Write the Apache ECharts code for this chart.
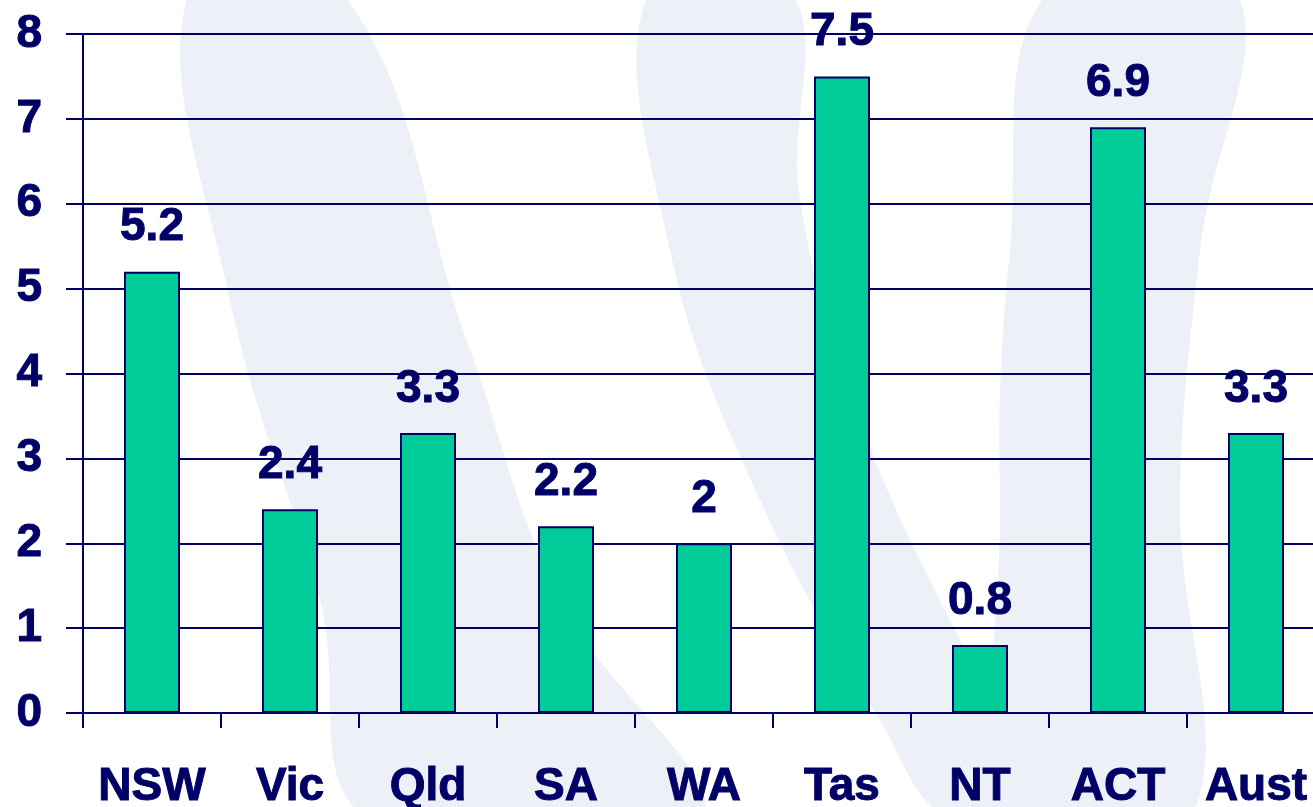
<!DOCTYPE html>
<html>
<head>
<meta charset="utf-8">
<script src="https://cdn.jsdelivr.net/npm/echarts@6/dist/echarts.min.js"></script>
<style>
  html, body { margin: 0; padding: 0; background: #fff; }
  #chart { width: 1313px; height: 807px; }
</style>
</head>
<body>
<div id="chart"></div>
<script>
// states + national figure
var categories = ['NSW', 'Vic', 'Qld', 'SA', 'WA', 'Tas', 'NT', 'ACT', 'Aust'];
var values = [5.2, 2.4, 3.3, 2.2, 2, 7.5, 0.8, 6.9, 3.3];
var yTicks = [0, 1, 2, 3, 4, 5, 6, 7, 8];

var navy = '#000066';
var green = '#00CC99';
var swoosh = '#EEF0F8';
var font = '"Liberation Sans", Arial, sans-serif';

var chart = echarts.init(document.getElementById('chart'));

// background decoration, just rough crescent outlines
function band(points) {
    return {
        type: 'polygon',
        z: -10,
        silent: true,
        shape: {points: points, smooth: 0.4},
        style: {fill: swoosh}
    };
}

var boldText = {
    color: navy,
    fontSize: 46,
    fontWeight: 'bold',
    fontFamily: font,
    textBorderColor: navy,
    textBorderWidth: 1
};

var option = {
    backgroundColor: '#ffffff',
    animation: false,
    graphic: [
        band([[190, -10], [230, 300], [320, 600], [370, 820], [700, 820], [560, 600], [470, 350], [340, -10]]),
        band([[650, -10], [670, 250], [760, 500], [880, 720], [950, 820], [1060, 820], [960, 640], [860, 420], [800, 200], [790, -10]]),
        band([[1050, -10], [1010, 250], [1000, 500], [1020, 820], [1190, 820], [1180, 500], [1200, 250], [1235, -10]])
    ],
    grid: {
        left: 83,
        width: 1242,
        top: 34,
        bottom: 94,
        containLabel: false,
        outerBoundsMode: 'none'
    },
    xAxis: {
        type: 'category',
        data: categories,
        axisLine: {show: true, lineStyle: {color: navy, width: 2}},
        axisTick: {show: true, length: 15, lineStyle: {color: navy, width: 2}},
        axisLabel: Object.assign({margin: 51, interval: 0}, boldText)
    },
    yAxis: {
        type: 'value',
        min: 0,
        max: 8,
        interval: 1,
        axisLine: {show: true, lineStyle: {color: navy, width: 2}},
        axisTick: {show: true, length: 17, lineStyle: {color: navy, width: 2}},
        splitLine: {show: true, lineStyle: {color: navy, width: 2}},
        axisLabel: Object.assign({
            margin: 41,
            formatter: function (v) {
                return yTicks.indexOf(v) >= 0 ? String(v) : '';
            }
        }, boldText)
    },
    series: [
        {
            type: 'bar',
            data: values,
            barWidth: 56,
            itemStyle: {
                color: green,
                borderColor: navy,
                borderWidth: 2
            },
            label: Object.assign({
                show: true,
                position: 'top',
                distance: 21
            }, boldText)
        }
    ]
};

chart.setOption(option);
</script>
</body>
</html>
